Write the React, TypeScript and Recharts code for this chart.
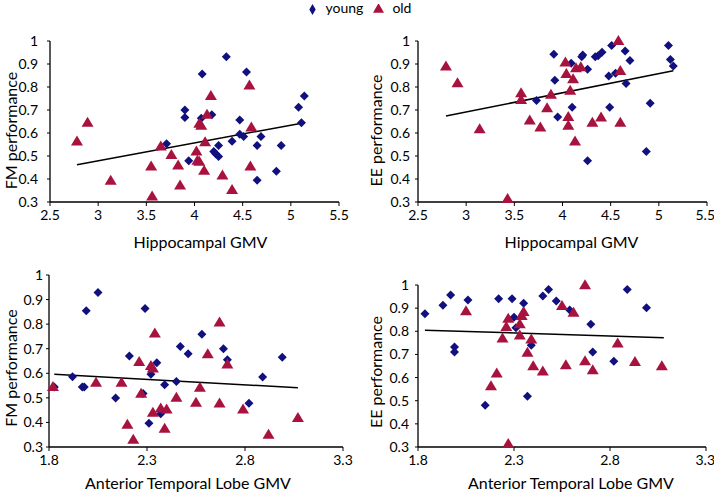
import React from 'react';
import { ScatterChart, Scatter, XAxis, YAxis, ZAxis, ReferenceLine, Legend } from 'recharts';

// Hippocampal GMV vs FM performance
const hipFmYoung = [
  [3.71, 0.553], [3.94, 0.479], [3.9, 0.7], [3.9, 0.667], [4.08, 0.857], [4.07, 0.664], [4.18, 0.679],
  [4.2, 0.52], [4.22, 0.51], [4.25, 0.498], [4.25, 0.546], [4.33, 0.932], [4.39, 0.564], [4.54, 0.865],
  [4.47, 0.656], [4.47, 0.595], [4.51, 0.585], [4.69, 0.585], [4.65, 0.546], [4.65, 0.395], [4.85, 0.434],
  [4.9, 0.546], [5.08, 0.712], [5.11, 0.645], [5.14, 0.761],
];
const hipFmOld = [
  [2.78, 0.563], [2.89, 0.645], [3.13, 0.392], [3.55, 0.454], [3.56, 0.324], [3.65, 0.541], [3.76, 0.504],
  [3.83, 0.459], [3.85, 0.372], [4.02, 0.52], [4.03, 0.479], [4.05, 0.475], [4.05, 0.64], [4.07, 0.631],
  [4.1, 0.436], [4.11, 0.56], [4.13, 0.679], [4.17, 0.761], [4.29, 0.415], [4.39, 0.352], [4.57, 0.806],
  [4.58, 0.454], [4.59, 0.624],
];
const hipFmTrend = [[2.78, 0.462], [5.14, 0.645]];

// Hippocampal GMV vs EE performance
const hipEeYoung = [
  [3.73, 0.741], [3.91, 0.942], [3.92, 0.829], [3.95, 0.67], [4.09, 0.903], [4.1, 0.712], [4.2, 0.932],
  [4.21, 0.939], [4.26, 0.877], [4.26, 0.479], [4.34, 0.932], [4.37, 0.936], [4.41, 0.951], [4.48, 0.848],
  [4.49, 0.712], [4.51, 0.98], [4.55, 0.86], [4.65, 0.957], [4.66, 0.815], [4.7, 0.915], [4.87, 0.52],
  [4.91, 0.729], [5.1, 0.98], [5.12, 0.92], [5.15, 0.891],
];
const hipEeOld = [
  [2.79, 0.889], [2.91, 0.816], [3.14, 0.616], [3.43, 0.313], [3.57, 0.773], [3.57, 0.744], [3.66, 0.654],
  [3.77, 0.624], [3.84, 0.708], [3.88, 0.766], [4.03, 0.907], [4.04, 0.857], [4.06, 0.67], [4.06, 0.631],
  [4.08, 0.784], [4.11, 0.834], [4.13, 0.563], [4.14, 0.881], [4.19, 0.886], [4.31, 0.645], [4.4, 0.667],
  [4.58, 1.0], [4.6, 0.87], [4.6, 0.645],
];
const hipEeTrend = [[2.79, 0.674], [5.15, 0.871]];

// Anterior temporal lobe GMV vs FM performance
const atlFmYoung = [
  [1.827, 0.544], [1.92, 0.586], [1.97, 0.544], [1.98, 0.544], [1.99, 0.854], [2.05, 0.929], [2.14, 0.499],
  [2.21, 0.67], [2.28, 0.518], [2.29, 0.864], [2.31, 0.397], [2.32, 0.596], [2.35, 0.643], [2.37, 0.435],
  [2.39, 0.553], [2.45, 0.567], [2.47, 0.709], [2.51, 0.68], [2.58, 0.759], [2.69, 0.7], [2.71, 0.655],
  [2.82, 0.478], [2.89, 0.585], [2.99, 0.665],
];
const atlFmOld = [
  [1.82, 0.544], [2.04, 0.561], [2.17, 0.561], [2.2, 0.391], [2.23, 0.33], [2.26, 0.646], [2.27, 0.517],
  [2.32, 0.63], [2.33, 0.619], [2.33, 0.439], [2.34, 0.762], [2.37, 0.457], [2.39, 0.374], [2.4, 0.453],
  [2.45, 0.5], [2.55, 0.48], [2.57, 0.541], [2.61, 0.677], [2.67, 0.807], [2.67, 0.477], [2.71, 0.636],
  [2.79, 0.453], [2.92, 0.35], [3.07, 0.418],
];
const atlFmTrend = [[1.827, 0.596], [3.07, 0.541]];

// Anterior temporal lobe GMV vs EE performance
const atlEeYoung = [
  [1.836, 0.876], [1.93, 0.913], [1.97, 0.957], [1.99, 0.732], [1.99, 0.711], [2.06, 0.935], [2.15, 0.48],
  [2.22, 0.941], [2.29, 0.941], [2.3, 0.861], [2.31, 0.815], [2.35, 0.921], [2.37, 0.519], [2.39, 0.74],
  [2.45, 0.952], [2.48, 0.981], [2.52, 0.931], [2.59, 0.892], [2.7, 0.83], [2.71, 0.711], [2.82, 0.671],
  [2.89, 0.981], [2.99, 0.902],
];
const atlEeOld = [
  [2.05, 0.887], [2.18, 0.563], [2.21, 0.618], [2.24, 0.769], [2.26, 0.818], [2.27, 0.854], [2.27, 0.313],
  [2.33, 0.782], [2.33, 0.83], [2.34, 0.866], [2.35, 0.883], [2.37, 0.707], [2.39, 0.765], [2.4, 0.649],
  [2.45, 0.626], [2.55, 0.909], [2.57, 0.653], [2.61, 0.88], [2.67, 0.671], [2.67, 0.999], [2.71, 0.632],
  [2.84, 0.747], [2.93, 0.667], [3.07, 0.649],
];
const atlEeTrend = [[1.836, 0.805], [3.08, 0.772]];

const yTicks = [0.3, 0.4, 0.5, 0.6, 0.7, 0.8, 0.9, 1];
const hipTicks = [2.5, 3, 3.5, 4, 4.5, 5, 5.5];
const atlTicks = [1.8, 2.3, 2.8, 3.3];

const YOUNG = '#10107e';
const OLD = '#a8123e';
const FONT = 'Lato, "Open Sans", sans-serif';

const toPts = (arr: number[][]) => arr.map(([x, y]) => ({ x, y }));

const Diamond = (p: any) => {
  const { cx, cy } = p;
  if (cx == null || cy == null) return null;
  return <polygon points={`${cx},${cy - 4.5} ${cx + 4.5},${cy} ${cx},${cy + 4.5} ${cx - 4.5},${cy}`} fill={YOUNG} />;
};

const Triangle = (p: any) => {
  const { cx, cy } = p;
  if (cx == null || cy == null) return null;
  return <polygon points={`${cx},${cy - 6} ${cx + 6},${cy + 4} ${cx - 6},${cy + 4}`} fill={OLD} />;
};

const XTitle = (p: any) => {
  const vb = p.viewBox || {};
  const x = vb.x + vb.width / 2 + (p.shiftX || 0);
  const y = vb.y + (p.shiftY || 0);
  return (
    <text x={x} y={y} textAnchor="middle" dominantBaseline="central" fontSize={16} fontFamily={FONT} fill="#000">
      {p.caption}
    </text>
  );
};

const YTitle = (p: any) => {
  const vb = p.viewBox || {};
  const x = vb.x + (p.shiftX || 0);
  const y = vb.y + vb.height / 2 + (p.shiftY || 0);
  return (
    <text x={x} y={y} transform={`rotate(-90 ${x} ${y})`} textAnchor="middle" dominantBaseline="central" fontSize={16} fontFamily={FONT} fill="#000">
      {p.caption}
    </text>
  );
};

interface PanelProps {
  left: number;
  top: number;
  height: number;
  margin: { top: number; right: number; left: number; bottom: number };
  yWidth: number;
  xHeight: number;
  yTickMargin: number;
  xDomain: number[];
  xTicks: number[];
  xTitle: string;
  yTitle: string;
  xTitleShift: number[];
  yTitleShift: number[];
  young: number[][];
  old: number[][];
  trend: number[][];
  legend?: boolean;
}

function Panel(props: PanelProps) {
  const tickStyle = { fill: '#000', fontSize: 14, fontFamily: FONT };
  return (
    <div style={{ position: 'absolute', left: props.left, top: props.top, zIndex: props.legend ? 2 : 1 }}>
      <ScatterChart width={357} height={props.height} margin={props.margin}>
        <XAxis
          type="number"
          dataKey="x"
          domain={props.xDomain}
          ticks={props.xTicks}
          height={props.xHeight}
          tick={tickStyle}
          tickSize={4}
          tickMargin={4}
          axisLine={{ stroke: '#000', strokeWidth: 1.3 }}
          tickLine={{ stroke: '#000' }}
          label={<XTitle caption={props.xTitle} shiftX={props.xTitleShift[0]} shiftY={props.xTitleShift[1]} />}
        />
        <YAxis
          type="number"
          dataKey="y"
          domain={[0.3, 1]}
          ticks={yTicks}
          width={props.yWidth}
          tick={tickStyle}
          tickSize={3}
          tickMargin={props.yTickMargin}
          axisLine={{ stroke: '#000', strokeWidth: 1.3 }}
          tickLine={{ stroke: '#000' }}
          label={<YTitle caption={props.yTitle} shiftX={props.yTitleShift[0]} shiftY={props.yTitleShift[1]} />}
        />
        <ZAxis range={[60, 60]} />
        {props.legend && (
          <Legend
            layout="horizontal"
            align="center"
            verticalAlign="middle"
            iconSize={11}
            itemSorter={null}
            wrapperStyle={{ left: 299, top: 0, width: 130, whiteSpace: 'nowrap', fontSize: 14, fontFamily: FONT, lineHeight: '16px', textAlign: 'left' }}
            formatter={(v: string) => <span style={{ color: '#000', marginLeft: 4 }}>{v}</span>}
          />
        )}
        <Scatter name="young" data={toPts(props.young)} fill={YOUNG} legendType="diamond" shape={Diamond} isAnimationActive={false} />
        <Scatter name="old" data={toPts(props.old)} fill={OLD} legendType="triangle" shape={Triangle} isAnimationActive={false} />
        <ReferenceLine
          segment={[
            { x: props.trend[0][0], y: props.trend[0][1] },
            { x: props.trend[1][0], y: props.trend[1][1] },
          ]}
          stroke="#000"
          strokeWidth={1.5}
        />
      </ScatterChart>
    </div>
  );
}

export default function App() {
  return (
    <div style={{ position: 'absolute', left: 0, top: 0, width: 714, height: 492, background: '#fff', fontFamily: FONT }}>
      <Panel
        left={0} top={0} height={252}
        margin={{ top: 41, right: 18, left: 0, bottom: 0 }}
        yWidth={50} xHeight={50} yTickMargin={9}
        xDomain={[2.5, 5.5]} xTicks={hipTicks}
        xTitle="Hippocampal GMV" yTitle="FM performance"
        xTitleShift={[6, 39]} yTitleShift={[10, 9]}
        young={hipFmYoung} old={hipFmOld} trend={hipFmTrend}
        legend
      />
      <Panel
        left={357} top={0} height={252}
        margin={{ top: 41, right: 7, left: 0, bottom: 0 }}
        yWidth={61} xHeight={50} yTickMargin={5}
        xDomain={[2.5, 5.5]} xTicks={hipTicks}
        xTitle="Hippocampal GMV" yTitle="EE performance"
        xTitleShift={[9, 39]} yTitleShift={[18, 9]}
        young={hipEeYoung} old={hipEeOld} trend={hipEeTrend}
      />
      <Panel
        left={0} top={246} height={246}
        margin={{ top: 29, right: 14, left: 0, bottom: 0 }}
        yWidth={49} xHeight={45} yTickMargin={3}
        xDomain={[1.8, 3.3]} xTicks={atlTicks}
        xTitle="Anterior Temporal Lobe GMV" yTitle="FM performance"
        xTitleShift={[-8, 35]} yTitleShift={[10, 7]}
        young={atlFmYoung} old={atlFmOld} trend={atlFmTrend}
      />
      <Panel
        left={357} top={246} height={246}
        margin={{ top: 39, right: 8, left: 0, bottom: 0 }}
        yWidth={61} xHeight={45} yTickMargin={6}
        xDomain={[1.8, 3.3]} xTicks={atlTicks}
        xTitle="Anterior Temporal Lobe GMV" yTitle="EE performance"
        xTitleShift={[9, 35]} yTitleShift={[18, 6]}
        young={atlEeYoung} old={atlEeOld} trend={atlEeTrend}
      />
    </div>
  );
}
